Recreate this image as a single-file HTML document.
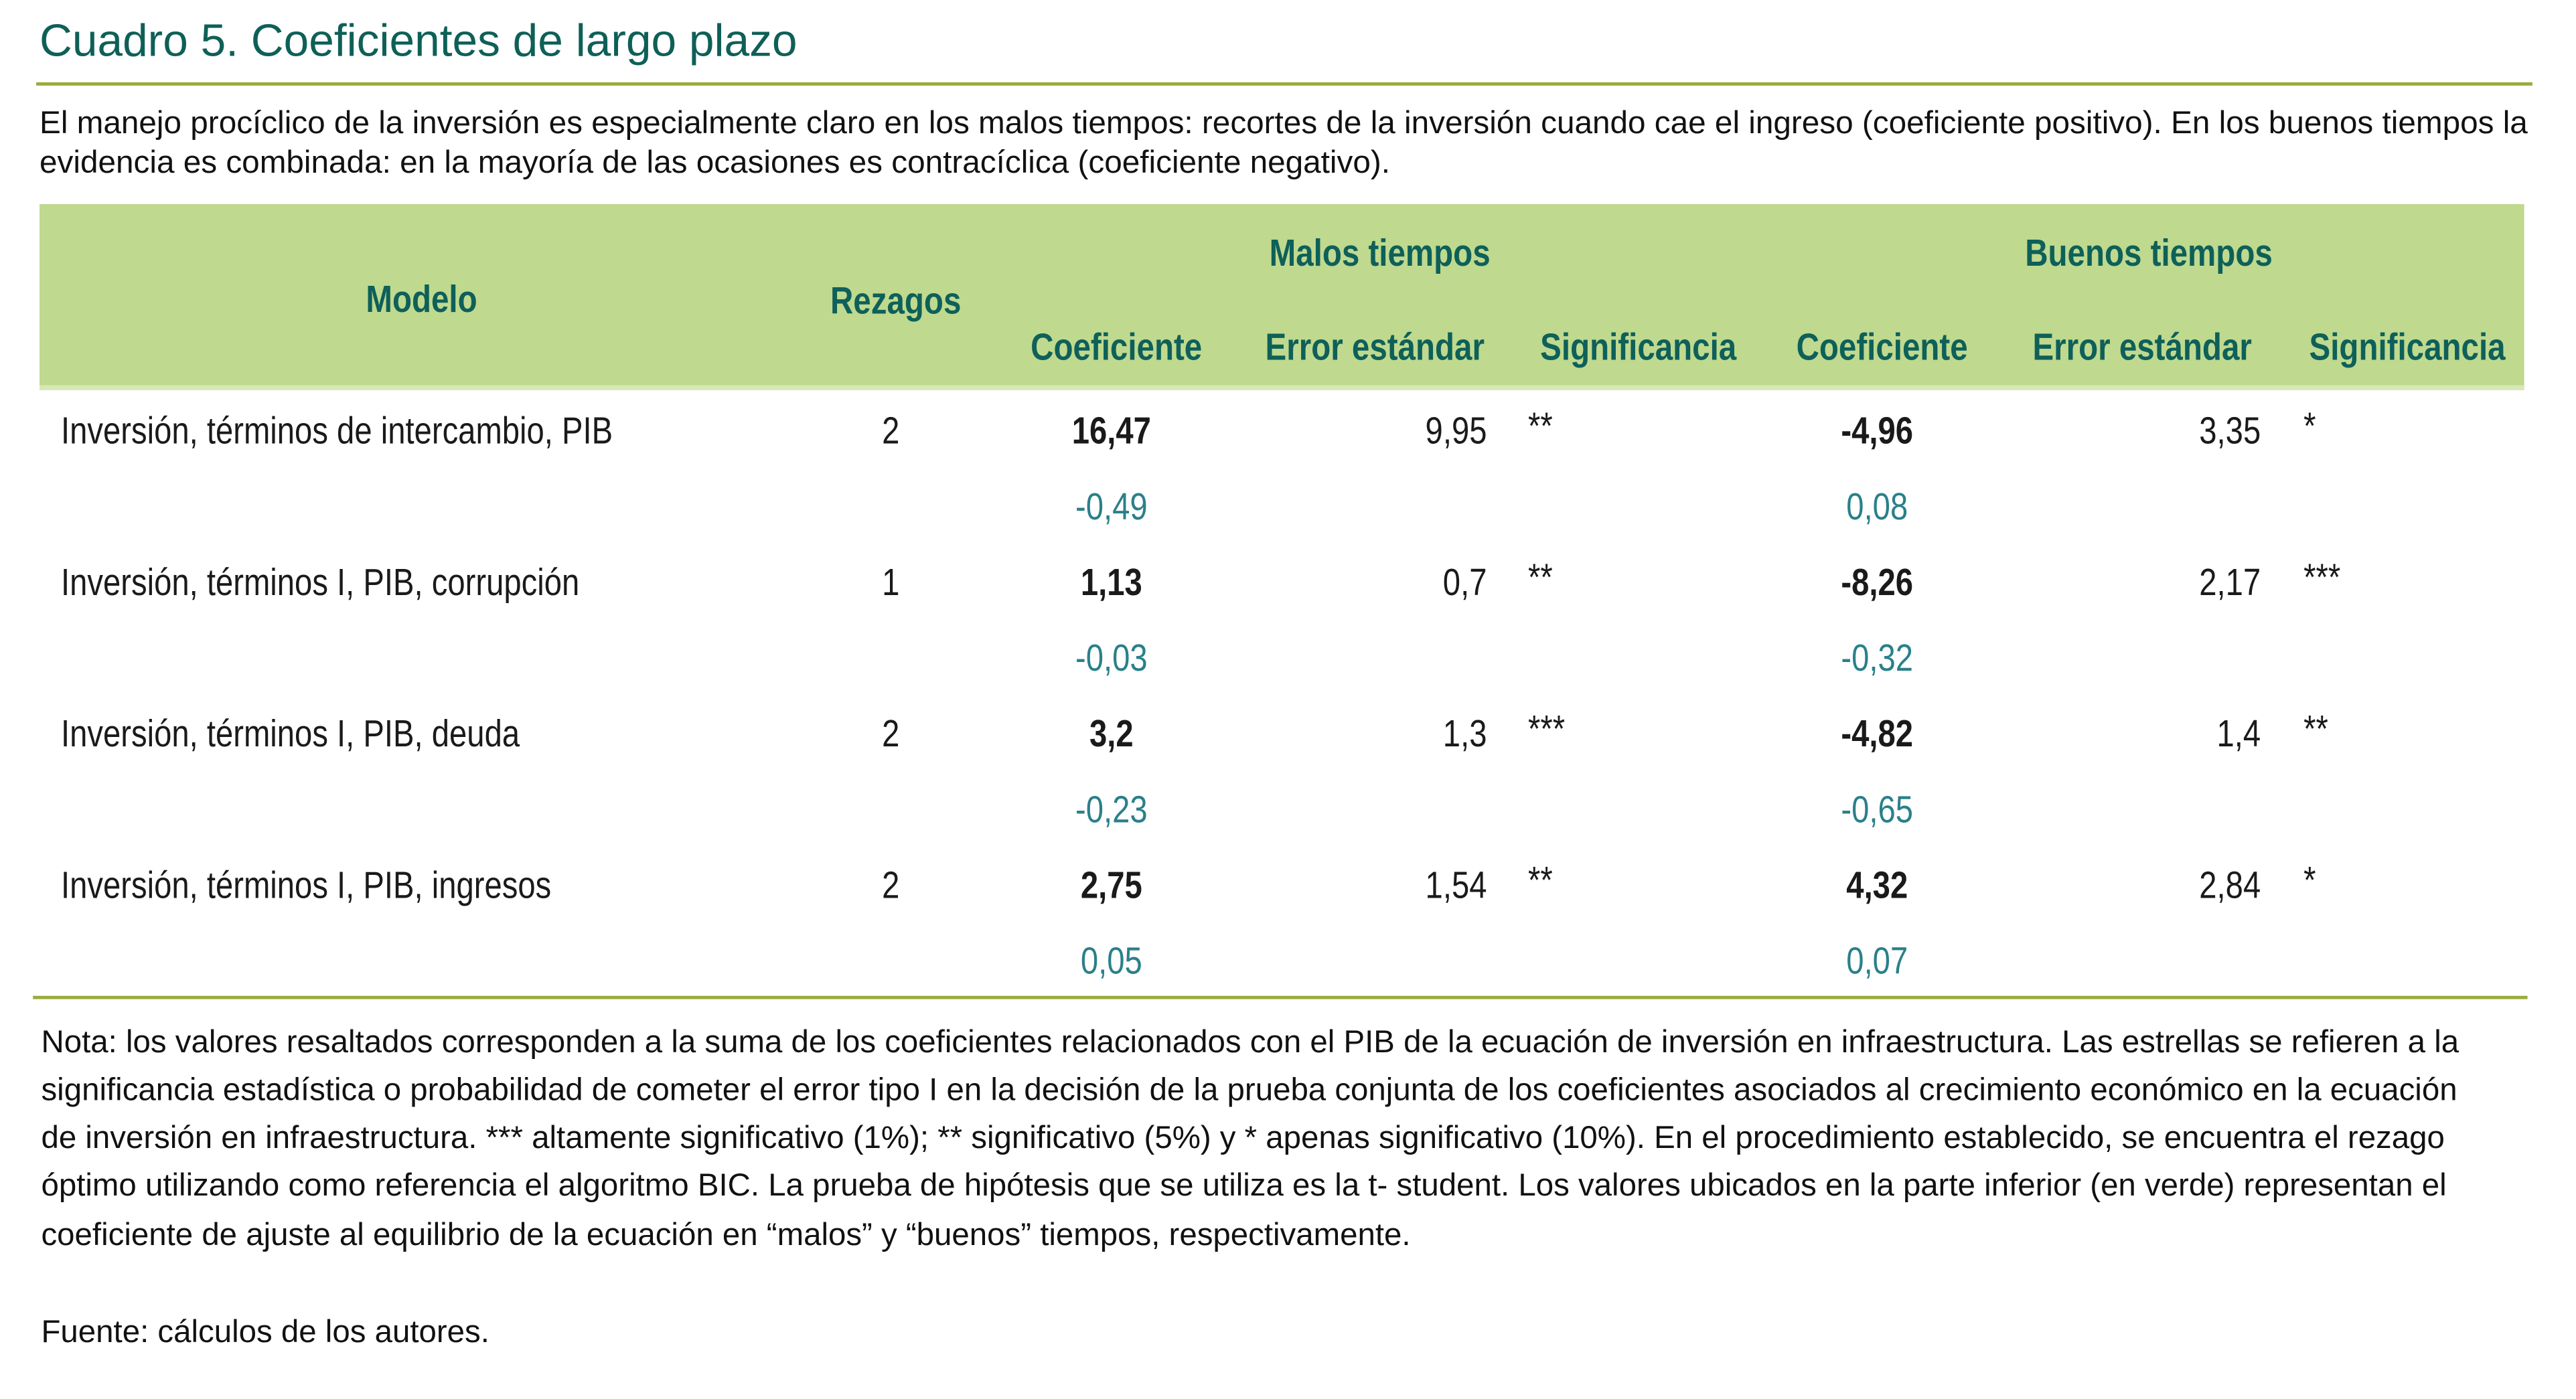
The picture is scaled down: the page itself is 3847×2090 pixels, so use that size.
<!DOCTYPE html>
<html><head><meta charset="utf-8"><style>
html,body{margin:0;padding:0;background:#fff;}
body{width:3847px;height:2089px;overflow:hidden;position:relative;}
#w{position:absolute;left:0;top:0;width:1560px;height:850px;transform:scale(2.459);transform-origin:0 0;font-family:"Liberation Sans",sans-serif;}
.a{position:absolute;white-space:nowrap;line-height:1;}
.h{color:#0e6059;font-weight:bold;font-size:23px;transform:translate(-50%,-50%) scaleX(0.84);}
.r{font-size:23px;color:#1a1a1a;transform-origin:left center;transform:translateY(-50%) scaleX(0.835);}
.c{transform-origin:center center;transform:translate(-50%,-50%) scaleX(0.835);}
.rt{transform-origin:right center;transform:translate(-100%,-50%) scaleX(0.835);}
.b{font-weight:bold;}
.s{color:#2a8089;}
.n{font-size:19.3px;color:#111;left:25px;transform:translateY(-50%);}
</style></head><body>
<div id="w">
<div class="a" style="left:24px;top:11px;font-size:27.5px;color:#0e6057;">Cuadro 5. Coeficientes de largo plazo</div>
<div class="a" style="left:22px;top:50px;width:1516px;height:2px;background:#9aab3a;"></div>
<div class="a" style="left:24px;top:66px;font-size:19.4px;color:#111;">El manejo procíclico de la inversión es especialmente claro en los malos tiempos: recortes de la inversión cuando cae el ingreso (coeficiente positivo). En los buenos tiempos la</div>
<div class="a" style="left:24px;top:90px;font-size:19.4px;color:#111;">evidencia es combinada: en la mayoría de las ocasiones es contracíclica (coeficiente negativo).</div>
<div class="a" style="left:24px;top:124px;width:1509px;height:110px;background:#bfd98e;border-bottom:3px solid #d6e8b6;"></div>
<div class="a h" style="left:256px;top:182px;">Modelo</div>
<div class="a h" style="left:544px;top:183px;">Rezagos</div>
<div class="a h" style="left:838px;top:154px;">Malos tiempos</div>
<div class="a h" style="left:1305px;top:154px;">Buenos tiempos</div>
<div class="a h" style="left:678px;top:211px;">Coeficiente</div>
<div class="a h" style="left:835px;top:211px;">Error estándar</div>
<div class="a h" style="left:995px;top:211px;">Significancia</div>
<div class="a h" style="left:1143px;top:211px;">Coeficiente</div>
<div class="a h" style="left:1301px;top:211px;">Error estándar</div>
<div class="a h" style="left:1462px;top:211px;">Significancia</div>
<div id="rows"></div>
<div class="a" style="left:20px;top:605px;width:1515px;height:2px;background:#9aab3a;"></div>
<div class="a n" style="top:634px;">Nota: los valores resaltados corresponden a la suma de los coeficientes relacionados con el PIB de la ecuación de inversión en infraestructura. Las estrellas se refieren a la</div>
<div class="a n" style="top:663px;">significancia estadística o probabilidad de cometer el error tipo I en la decisión de la prueba conjunta de los coeficientes asociados al crecimiento económico en la ecuación</div>
<div class="a n" style="top:692px;">de inversión en infraestructura. *** altamente significativo (1%); ** significativo (5%) y * apenas significativo (10%). En el procedimiento establecido, se encuentra el rezago</div>
<div class="a n" style="top:721px;">óptimo utilizando como referencia el algoritmo BIC. La prueba de hipótesis que se utiliza es la t- student. Los valores ubicados en la parte inferior (en verde) representan el</div>
<div class="a n" style="top:751px;">coeficiente de ajuste al equilibrio de la ecuación en “malos” y “buenos” tiempos, respectivamente.</div>
<div class="a n" style="top:810px;">Fuente: cálculos de los autores.</div>
</div>
<script>
const models=["Inversión, términos de intercambio, PIB","Inversión, términos I, PIB, corrupción","Inversión, términos I, PIB, deuda","Inversión, términos I, PIB, ingresos"];
const lags=["2","1","2","2"];
const badCoef=["16,47","1,13","3,2","2,75"];
const badErr=["9,95","0,7","1,3","1,54"];
const badSig=["**","**","***","**"];
const badAdj=["-0,49","-0,03","-0,23","0,05"];
const goodCoef=["-4,96","-8,26","-4,82","4,32"];
const goodErr=["3,35","2,17","1,4","2,84"];
const goodSig=["*","***","**","*"];
const goodAdj=["0,08","-0,32","-0,65","0,07"];
const host=document.getElementById('rows');
function cell(txt,cls,x,y,name){
  const d=document.createElement('div');
  d.className='a r '+cls;
  d.style.left=x+'px';d.style.top=y+'px';
  d.textContent=txt;
  
  
  host.appendChild(d);
}
models.forEach((m,i)=>{
  const y=262+i*92, y2=y+46;
  cell(m,'',37,y,'model-name');
  cell(lags[i],'c',541,y,'lag-value');
  cell(badCoef[i],'c b',675,y,'bad-coefficient');
  cell(badErr[i],'rt',903,y,'bad-std-error');
  cell(badSig[i],'',928,y-3,'bad-significance');
  cell(goodCoef[i],'c b',1140,y,'good-coefficient');
  cell(goodErr[i],'rt',1373,y,'good-std-error');
  cell(goodSig[i],'',1399,y-3,'good-significance');
  cell(badAdj[i],'c s',675,y2,'bad-adjustment');
  cell(goodAdj[i],'c s',1140,y2,'good-adjustment');
});
</script>
</body></html>
